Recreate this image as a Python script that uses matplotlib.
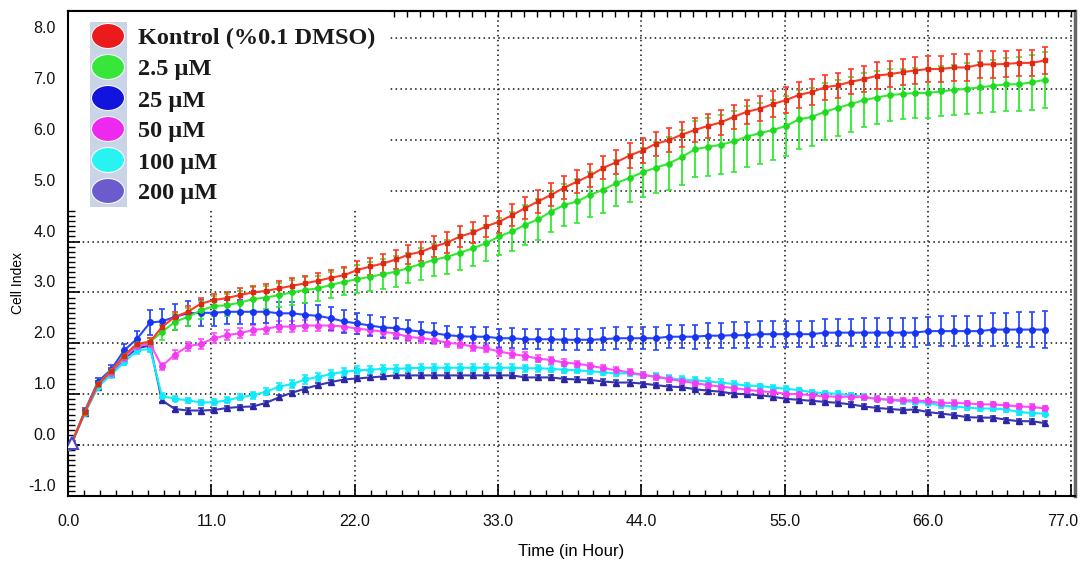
import numpy as np
import matplotlib
matplotlib.use("Agg")
from matplotlib import pyplot as plt
from matplotlib.patches import Ellipse, Rectangle
from matplotlib.ticker import MultipleLocator
from matplotlib.transforms import ScaledTranslation


hours = [0.0, 0.3,
         1.3, 2.3, 3.3, 4.3, 5.3, 6.3,
         7.2, 8.2, 9.2, 10.2, 11.2, 12.2, 13.2, 14.2, 15.2, 16.2, 17.2, 18.2,
         19.2, 20.2, 21.2, 22.2, 23.2, 24.2, 25.2,
         26.1, 27.1, 28.1, 29.1, 30.1, 31.1, 32.1, 33.1, 34.1, 35.1, 36.1, 37.1,
         38.1, 39.1, 40.1, 41.1, 42.1, 43.1, 44.1, 45.1, 46.1, 47.1, 48.1, 49.1,
         50.1, 51.1, 52.1, 53.1, 54.1, 55.1, 56.1, 57.1, 58.1, 59.1, 60.1, 61.1,
         62.1, 63.1, 64.1,
         65.0, 66.0, 67.0, 68.0, 69.0, 70.0, 71.0, 72.0, 73.0, 74.0, 75.0]

kontrol = [-0.03, 0.05,
           0.66, 1.20, 1.45, 1.76, 1.99, 2.03,
           2.32, 2.52, 2.62, 2.78, 2.85, 2.89,
           2.95, 3.00, 3.03, 3.08, 3.13, 3.18, 3.23, 3.29, 3.34, 3.44, 3.51, 3.57, 3.65,
           3.74, 3.80, 3.90, 3.98, 4.10, 4.18, 4.30, 4.39, 4.52, 4.66, 4.79, 4.92, 5.06,
           5.18, 5.30, 5.45, 5.56, 5.69, 5.79, 5.92, 5.99, 6.10, 6.19, 6.27, 6.34, 6.45,
           6.55, 6.61, 6.70, 6.78, 6.88, 6.94, 7.03, 7.07, 7.14, 7.19, 7.26, 7.29, 7.33,
           7.36, 7.39, 7.39, 7.42, 7.42, 7.48, 7.48, 7.49, 7.51, 7.51, 7.56]
kontrol_err = [0, 0,
               0.05, 0.06, 0.07, 0.08, 0.08, 0.08,
               0.10, 0.10, 0.12, 0.12, 0.12, 0.12,
               0.13, 0.13, 0.14, 0.14, 0.15, 0.15, 0.15, 0.16, 0.16, 0.17, 0.17, 0.18, 0.18,
               0.19, 0.19, 0.20, 0.20, 0.20, 0.21, 0.21, 0.22, 0.22, 0.22, 0.23, 0.23, 0.23,
               0.23, 0.23, 0.23, 0.24, 0.24, 0.24, 0.24, 0.24, 0.24, 0.24, 0.24, 0.24, 0.24,
               0.24, 0.25, 0.25, 0.25, 0.25, 0.25, 0.25, 0.25, 0.25, 0.25, 0.26, 0.26, 0.26,
               0.26, 0.26, 0.26, 0.26, 0.26, 0.26, 0.26, 0.26, 0.26, 0.26, 0.26]

um_2_5 = [-0.03, 0.05,
          0.66, 1.20, 1.45, 1.76, 1.99, 2.03,
          2.22, 2.42, 2.52, 2.65, 2.73, 2.75,
          2.80, 2.87, 2.90, 2.95, 3.00, 3.05, 3.08, 3.15, 3.21, 3.26, 3.31, 3.36, 3.41,
          3.48, 3.56, 3.64, 3.70, 3.78, 3.87, 3.97, 4.10, 4.20, 4.33, 4.44, 4.59, 4.72,
          4.79, 4.92, 5.02, 5.15, 5.25, 5.36, 5.45, 5.53, 5.66, 5.81, 5.86, 5.90, 5.97,
          6.06, 6.13, 6.19, 6.27, 6.40, 6.45, 6.55, 6.63, 6.70, 6.78, 6.83, 6.88, 6.90,
          6.92, 6.92, 6.95, 6.98, 7.00, 7.03, 7.06, 7.09, 7.09, 7.13, 7.18]
um_2_5_err = [0, 0,
              0.05, 0.06, 0.07, 0.08, 0.08, 0.08,
              0.15, 0.16, 0.17, 0.18, 0.20, 0.22,
              0.22, 0.23, 0.23, 0.24, 0.24, 0.25, 0.25, 0.26, 0.27, 0.28, 0.29, 0.30, 0.30,
              0.30, 0.31, 0.32, 0.33, 0.34, 0.35, 0.36, 0.37, 0.38, 0.39, 0.40, 0.41, 0.42,
              0.43, 0.44, 0.45, 0.46, 0.47, 0.48, 0.50, 0.52, 0.54, 0.55, 0.57, 0.58, 0.60,
              0.60, 0.60, 0.59, 0.59, 0.58, 0.57, 0.56, 0.55, 0.54, 0.53, 0.52, 0.51, 0.50,
              0.49, 0.49, 0.49, 0.49, 0.50, 0.50, 0.51, 0.52, 0.53, 0.54, 0.55]

um_25 = [-0.03, 0.05,
         0.68, 1.25, 1.48, 1.86, 2.09, 2.41,
         2.43, 2.52, 2.59, 2.60, 2.60, 2.62,
         2.62, 2.62, 2.62, 2.59, 2.59, 2.56, 2.54, 2.49, 2.43, 2.39, 2.35, 2.31, 2.30,
         2.26, 2.23, 2.20, 2.16, 2.14, 2.13, 2.13, 2.10, 2.10, 2.08, 2.08, 2.08, 2.07,
         2.07, 2.07, 2.08, 2.10, 2.10, 2.10, 2.10, 2.13, 2.13, 2.13, 2.15, 2.15, 2.16,
         2.16, 2.18, 2.18, 2.18, 2.18, 2.18, 2.21, 2.21, 2.21, 2.21, 2.21, 2.21, 2.21,
         2.21, 2.24, 2.24, 2.24, 2.24, 2.24, 2.27, 2.27, 2.27, 2.27, 2.27]
um_25_err = [0, 0,
             0.05, 0.07, 0.09, 0.12, 0.15, 0.25,
             0.25, 0.25, 0.25, 0.25, 0.25, 0.24,
             0.24, 0.24, 0.23, 0.23, 0.23, 0.23, 0.22, 0.22, 0.22, 0.21, 0.21, 0.20, 0.20,
             0.20, 0.19, 0.19, 0.19, 0.19, 0.19, 0.19, 0.19, 0.20, 0.20, 0.20, 0.21, 0.21,
             0.21, 0.21, 0.22, 0.22, 0.22, 0.22, 0.23, 0.23, 0.23, 0.24, 0.24, 0.24, 0.25,
             0.25, 0.25, 0.25, 0.26, 0.26, 0.26, 0.27, 0.27, 0.27, 0.28, 0.28, 0.28, 0.28,
             0.28, 0.28, 0.29, 0.29, 0.29, 0.29, 0.32, 0.33, 0.34, 0.35, 0.36]

um_50 = [-0.03, 0.05,
         0.66, 1.20, 1.42, 1.72, 1.95, 1.99,
         1.55, 1.78, 1.94, 1.99, 2.10, 2.16,
         2.20, 2.26, 2.29, 2.33, 2.33, 2.35, 2.35, 2.35, 2.33, 2.29, 2.26, 2.23, 2.19,
         2.13, 2.10, 2.07, 2.01, 1.99, 1.93, 1.90, 1.84, 1.79, 1.75, 1.70, 1.67, 1.62,
         1.60, 1.56, 1.51, 1.47, 1.43, 1.38, 1.34, 1.30, 1.26, 1.22, 1.18, 1.15, 1.12,
         1.09, 1.06, 1.04, 1.01, 1.00, 0.98, 0.96, 0.95, 0.95, 0.94, 0.91, 0.89, 0.88,
         0.88, 0.86, 0.83, 0.83, 0.82, 0.80, 0.80, 0.78, 0.76, 0.75, 0.72]
um_50_err = [0, 0,
             0.04, 0.05, 0.05, 0.06, 0.06, 0.06,
             0.07, 0.08, 0.09, 0.10, 0.10, 0.10,
             0.10, 0.10, 0.10, 0.10, 0.10, 0.10, 0.10, 0.10, 0.10, 0.10, 0.10, 0.10, 0.10,
             0.09, 0.09, 0.09, 0.09, 0.08, 0.08, 0.08, 0.08, 0.08, 0.07, 0.07, 0.07, 0.07,
             0.06, 0.06, 0.06, 0.06, 0.06, 0.06, 0.06, 0.06, 0.06, 0.06, 0.06, 0.06, 0.06,
             0.05, 0.05, 0.05, 0.05, 0.05, 0.05, 0.05, 0.05, 0.05, 0.05, 0.05, 0.05, 0.05,
             0.05, 0.05, 0.05, 0.05, 0.05, 0.05, 0.05, 0.05, 0.05, 0.05, 0.05]

um_100 = [-0.03, 0.05,
          0.64, 1.15, 1.38, 1.63, 1.86, 1.89,
          0.97, 0.91, 0.88, 0.84, 0.84, 0.88,
          0.94, 0.98, 1.05, 1.15, 1.20, 1.29, 1.34, 1.40, 1.44, 1.47, 1.48, 1.50, 1.50,
          1.51, 1.52, 1.52, 1.52, 1.52, 1.52, 1.52, 1.52, 1.52, 1.51, 1.51, 1.50, 1.48,
          1.47, 1.45, 1.43, 1.41, 1.41, 1.38, 1.35, 1.31, 1.29, 1.27, 1.25, 1.23, 1.20,
          1.17, 1.16, 1.13, 1.11, 1.08, 1.04, 1.02, 1.01, 0.98, 0.95, 0.91, 0.89, 0.86,
          0.85, 0.83, 0.78, 0.76, 0.74, 0.72, 0.72, 0.70, 0.65, 0.63, 0.62]
um_100_err = [0, 0,
              0.04, 0.05, 0.05, 0.06, 0.06, 0.06,
              0.05, 0.05, 0.05, 0.05, 0.06, 0.06,
              0.06, 0.07, 0.07, 0.07, 0.08, 0.08, 0.08, 0.08, 0.08, 0.08, 0.08, 0.08, 0.08,
              0.07, 0.07, 0.07, 0.07, 0.07, 0.07, 0.07, 0.07, 0.07, 0.07, 0.07, 0.07, 0.07,
              0.06, 0.06, 0.06, 0.06, 0.06, 0.06, 0.06, 0.06, 0.06, 0.06, 0.06, 0.06, 0.06,
              0.05, 0.05, 0.05, 0.05, 0.05, 0.05, 0.05, 0.05, 0.05, 0.05, 0.05, 0.05, 0.05,
              0.05, 0.05, 0.05, 0.05, 0.05, 0.05, 0.05, 0.05, 0.05, 0.05, 0.05]

um_200 = [-0.03, 0.05,
          0.64, 1.15, 1.40, 1.70, 1.90, 1.96,
          0.88, 0.71, 0.68, 0.68, 0.69, 0.73,
          0.75, 0.76, 0.83, 0.94, 1.03, 1.11, 1.18, 1.24, 1.29, 1.31, 1.33, 1.35, 1.37,
          1.37, 1.37, 1.37, 1.37, 1.37, 1.37, 1.37, 1.37, 1.37, 1.33, 1.33, 1.33, 1.30,
          1.29, 1.28, 1.25, 1.23, 1.23, 1.21, 1.18, 1.15, 1.14, 1.10, 1.07, 1.05, 1.01,
          1.00, 0.98, 0.95, 0.91, 0.89, 0.87, 0.85, 0.83, 0.80, 0.76, 0.73, 0.71, 0.69,
          0.70, 0.65, 0.62, 0.59, 0.55, 0.54, 0.54, 0.50, 0.47, 0.47, 0.43]
um_200_err = [0, 0,
              0.03, 0.04, 0.04, 0.05, 0.05, 0.05,
              0.04, 0.04, 0.04, 0.04, 0.04, 0.04,
              0.04, 0.04, 0.04, 0.04, 0.04, 0.04, 0.04, 0.04, 0.04, 0.04, 0.04, 0.04, 0.04,
              0.04, 0.04, 0.04, 0.04, 0.04, 0.04, 0.04, 0.04, 0.04, 0.04, 0.04, 0.04, 0.04,
              0.04, 0.04, 0.04, 0.04, 0.04, 0.04, 0.04, 0.04, 0.04, 0.04, 0.04, 0.04, 0.04,
              0.04, 0.04, 0.04, 0.04, 0.04, 0.04, 0.04, 0.04, 0.04, 0.04, 0.04, 0.04, 0.04,
              0.04, 0.04, 0.04, 0.04, 0.04, 0.04, 0.04, 0.04, 0.04, 0.04, 0.04]

legend_labels = ["Kontrol (%0.1 DMSO)", "2.5 µM", "25 µM", "50 µM", "100 µM", "200 µM"]
legend_colors = ["#ee1111", "#2ee82e", "#0808dd", "#f020f0", "#20f4f4", "#6655cc"]

x_ticks = [0.0, 11.0, 22.0, 33.0, 44.0, 55.0, 66.0, 77.0]
y_ticks = [-1.0, 0.0, 1.0, 2.0, 3.0, 4.0, 5.0, 6.0, 7.0, 8.0]

# series drawn bottom to top: (values, errors, line colour, marker, marker colour, marker size)
series = [
    (um_200, um_200_err, "#3a36b4", "^", "#2a26a6", 5),
    (um_100, um_100_err, "#12eefc", "o", "#10e8f8", 4),
    (um_50, um_50_err, "#ff4cff", "o", "#f23cf2", 4),
    (um_25, um_25_err, "#2848ff", "o", "#1834f0", 4),
    (um_2_5, um_2_5_err, "#30ea30", "o", "#22d822", 3.8),
    (kontrol, kontrol_err, "#ff3a24", "s", "#d82a14", 3),
]

tick_font = ["Liberation Sans", "DejaVu Sans"]

fig = plt.figure(figsize=(10.8, 5.67), dpi=100)
ax = fig.add_axes([0.063, 0.1252, 0.9324, 0.8554])

for vals, errs, col, mk, mcol, size in series:
    ax.errorbar(hours, vals, yerr=errs, color=col, lw=1.5, marker=mk, ms=size,
                mfc=mcol, mec=mcol, elinewidth=1.3, ecolor=col, capsize=2,
                capthick=1.2, zorder=3)

# open triangle at the normalisation point
ax.plot([hours[1]], [um_200[1]], marker="^", ms=9, mfc="white", mec="#4a46c8",
        mew=1.5, ls="none", zorder=4)

ax.set_xlim(0, 77.3)
ax.set_ylim(-1.0, 8.53)
ax.set_xticks(x_ticks)
ax.set_yticks(y_ticks)
ax.set_xticklabels(["{:.1f}".format(v) for v in x_ticks])
ax.set_yticklabels(["{:.1f}".format(v) for v in y_ticks])
ax.xaxis.set_minor_locator(MultipleLocator(11 / 9))
ax.yaxis.set_minor_locator(MultipleLocator(0.1))

ax.tick_params(axis="both", which="both", direction="in", colors="black")
ax.tick_params(axis="y", which="major", length=8.5, width=1.2, pad=9)
ax.tick_params(axis="y", which="minor", length=5, width=1)
ax.tick_params(axis="x", which="major", length=9, width=1.2, pad=13)
ax.tick_params(axis="x", which="minor", length=4.5, width=1)
for lab in ax.get_xticklabels() + ax.get_yticklabels():
    lab.set_fontfamily(tick_font)
    lab.set_fontsize(11.5)
    lab.set_color("#111111")
shift = ScaledTranslation(0, 11 / 100, fig.dpi_scale_trans)
for lab in ax.get_yticklabels():
    lab.set_transform(lab.get_transform() + shift)
xlabs = ax.get_xticklabels()
xlabs[-1].set_transform(xlabs[-1].get_transform() +
                        ScaledTranslation(-8 / 100, 0, fig.dpi_scale_trans))

top = ax.secondary_xaxis("top")
top.xaxis.set_major_locator(MultipleLocator(1))
top.tick_params(direction="in", length=4.5, width=1, labeltop=False)
top.spines["top"].set_linewidth(1.5)

ax.set_axisbelow(True)
ax.grid(True, which="major", color="#111111", linestyle=(0, (1, 2.2)), linewidth=1.1)

for side in ["left", "bottom", "top"]:
    ax.spines[side].set_linewidth(1.5)
ax.spines["right"].set_linewidth(2.5)
ax.spines["right"].set_color("#666666")

ax.set_xlabel("Time (in Hour)", fontfamily=tick_font, fontsize=12, labelpad=11)
fig.text(0.017, 0.50, "Cell Index", rotation=90, ha="center", va="center",
         fontfamily=tick_font, fontsize=10)

# legend: white box hiding the grid, pale column with coloured blobs
ax.add_patch(Rectangle((0, 0.593), 0.32, 0.407, transform=ax.transAxes,
                       facecolor="white", edgecolor="none", zorder=1.5))
W, H = 1080.0, 567.0
fig.add_artist(Rectangle((90 / W, 1 - 207 / H), 37 / W, 185 / H,
                         transform=fig.transFigure, facecolor="#c9d5e6",
                         edgecolor="none"))
for i, (lab, col) in enumerate(zip(legend_labels, legend_colors)):
    yc = 36 + 31 * i
    fig.add_artist(Ellipse((108 / W, 1 - yc / H), 33 / W, 25 / H,
                           transform=fig.transFigure, facecolor=col,
                           edgecolor="#ffffff", lw=0.8, alpha=0.95))
    fig.text(138 / W, 1 - (yc + 8.5) / H, lab, ha="left", va="baseline",
             fontfamily="Liberation Serif", fontweight="bold", fontsize=17.5,
             color="#1a1a1a")

fig.savefig("out.png", dpi=100)
